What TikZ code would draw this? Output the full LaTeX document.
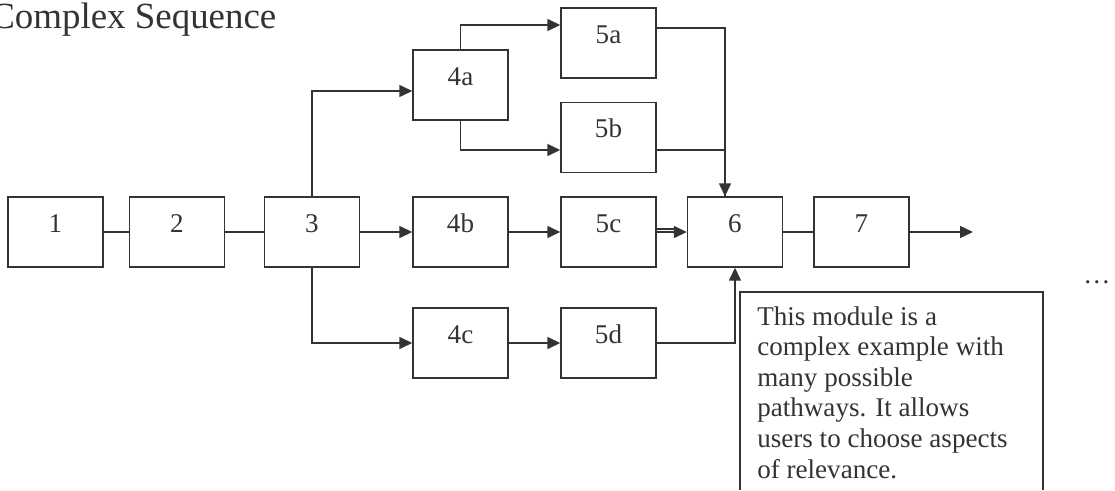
\documentclass[tikz,border=0pt]{standalone}
\usepackage{fontspec}
\setmainfont{Liberation Serif}
\usepackage{tikz}
\usetikzlibrary{arrows.meta}
\definecolor{ink}{HTML}{333333}

\tikzset{
  modbox/.style={draw=ink, line width=0.8pt, inner sep=0pt, minimum width=1.9cm,
    text height=0.7cm, text depth=0.7cm, text=ink, font=\fontsize{15.4}{18}\selectfont},
  link/.style={draw=ink, line width=0.8pt},
  arr/.style={link, -{Triangle[length=0.26cm, width=0.24cm]}}
}

\begin{document}
\begin{tikzpicture}
            \useasboundingbox (0,0) rectangle (22.300000,9.800000);
            
            % Title
            \node [anchor=base west, inner sep=0pt, text=ink, font=\fontsize{21}{24}\selectfont] (title) at (-0.200000,9.240000) {Complex Sequence};%
            
            % Main row of modules
            \node [modbox] (m1) at (1.110000,5.160000) {1};%
            \node [modbox] (m2) at (3.540000,5.160000) {2};%
            \node [modbox] (m3) at (6.240000,5.160000) {3};%
            \node [modbox] (m4b) at (9.210000,5.160000) {4b};%
            \node [modbox] (m5c) at (12.170000,5.160000) {5c};%
            \node [modbox] (m6) at (14.700000,5.160000) {6};%
            \node [modbox] (m7) at (17.230000,5.160000) {7};%
            
            % Upper and lower branches
            \node [modbox] (m4a) at (9.210000,8.100000) {4a};%
            \node [modbox] (m5a) at (12.170000,8.940000) {5a};%
            \node [modbox] (m5b) at (12.170000,7.050000) {5b};%
            \node [modbox] (m4c) at (9.210000,2.940000) {4c};%
            \node [modbox] (m5d) at (12.170000,2.940000) {5d};%
            
            % Free end and join point
            \coordinate (out7) at (19.460000,5.160000);%
            \coordinate (j6) at ([xshift=-0.2cm]m6.north);%
            
            % Drawing row links
            \draw [link] (m1) -- (m2);%
            \draw [link] (m2) -- (m3);%
            \draw [arr] (m3) -- (m4b);%
            \draw [arr] (m4b) -- (m5c);%
            \draw [arr] (m5c) -- (m6);%
            \draw [link] ([yshift=0.06cm]m5c.east) -- ([yshift=0.06cm,xshift=-0.24cm]m6.west);%
            \draw [link] (m6) -- (m7);%
            \draw [arr] (m7) -- (out7);%
            
            % Drawing branch links out of 3
            \draw [arr] (m3.north) |- ([yshift=-0.12cm]m4a.west);%
            \draw [arr] (m3.south) |- (m4c.west);%
            
            % Drawing branch links out of 4a
            \draw [arr] (m4a.north) |- ([yshift=0.36cm]m5a.west);%
            \draw [arr] (m4a.south) |- ([yshift=-0.25cm]m5b.west);%
            
            % Drawing joins into 6
            \draw [arr] ([yshift=0.3cm]m5a.east) -| (j6);%
            \draw [link] ([yshift=-0.25cm]m5b.east) -| (j6);%
            \draw [arr] (m4c) -- (m5d);%
            \draw [arr] (m5d.east) -| (m6.south);%
            
            % Ellipsis
            \node [anchor=base, inner sep=0pt, text=ink, font=\fontsize{15.4}{18}\selectfont] (dots) at (21.940000,4.140000) {…};%
            
            % Note frame and text
            \draw [link] (14.800000,0.000000) |- (20.860000,3.960000) -- (20.860000,0.000000);%
            \node [anchor=north west, inner sep=0pt, align=left, text=ink, font=\fontsize{15.4}{17.4}\selectfont] (note) at (15.140000,3.680000)
              {This module is a\\ complex example with\\ many possible\\ pathways. It allows\\ users to choose aspects\\ of relevance.};%
\end{tikzpicture}
\end{document}
